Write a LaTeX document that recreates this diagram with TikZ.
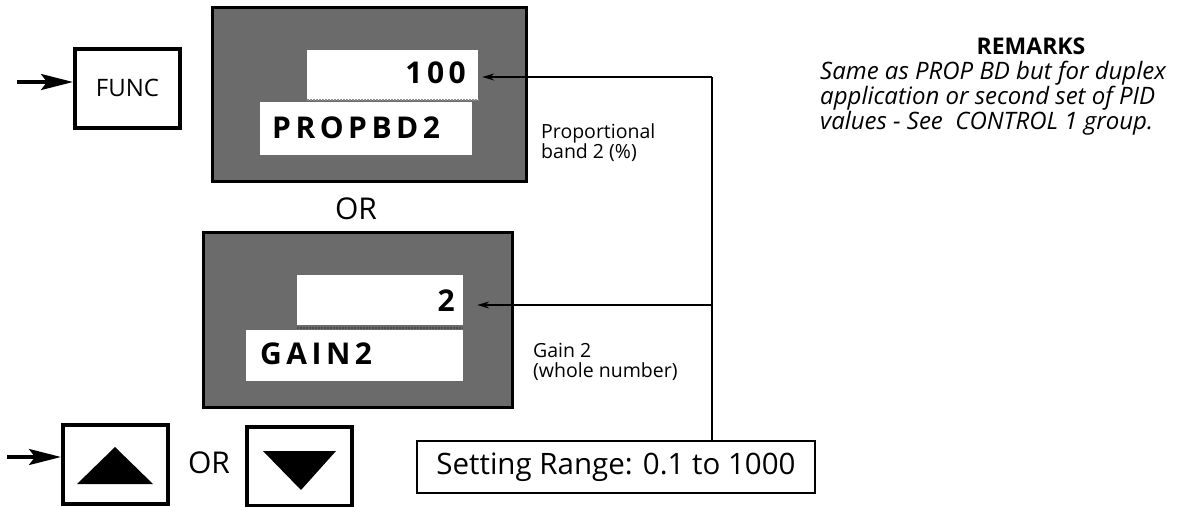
\documentclass[tikz,border=0pt]{standalone}
\usepackage{fontspec}
\setmainfont{Open Sans}
\usetikzlibrary{arrows.meta,calc,positioning}

\begin{document}
\begin{tikzpicture}[
  x=1pt, y=-1pt,
  keybox/.style={draw, line width=4pt, minimum width=105pt, minimum height=79pt, inner sep=0pt},
  panel/.style={draw, fill=black!58, line width=3pt, inner sep=0pt},
  window/.style={fill=white, inner sep=0pt},
  bigarrow/.style={-{Stealth[length=32pt,width=16pt,inset=6pt]}, line width=3.2pt},
  feed/.style={-{Stealth[length=12pt,width=7pt]}, line width=1.6pt},
  wire/.style={line width=1.6pt},
  lcd/.style={font=\fontsize{30}{30}\selectfont\bfseries\addfontfeature{LetterSpace=15}, inner sep=0pt},
  note/.style={font=\fontsize{19.5}{20}\selectfont, align=left, anchor=west, inner sep=0pt},
  orword/.style={font=\fontsize{30}{30}\selectfont, inner sep=0pt}
]
  \useasboundingbox (0,0) rectangle (1204,506);

  % FUNC key with its input arrow
  \node[keybox, font=\fontsize{24}{24}\selectfont] (func) at (127.5,88) {FUNC};
  \coordinate (funcin) at (17,82);
  \draw[bigarrow] (funcin) -- (funcin -| func.west);

  % Upper display: PROPBD2
  \node[panel, minimum width=314pt, minimum height=174pt] (dispA) at (369,94) {};
  \node[window, minimum width=171pt, minimum height=50pt] (valA) at (392.5,75) {};
  \node[window, minimum width=212pt, minimum height=53pt] (nameA) at (366,128.5) {};
  \draw[black!45, line width=1.5pt, dash pattern=on 2pt off 1pt] (valA.south west) -- (valA.south east);
  \node[lcd, anchor=east] (numA) at (466,73) {100};
  \node[lcd, anchor=west] (txtA) at (272,128) {PROPBD2};
  \node[note] (descA) at (541,143) {Proportional\\band 2 (\%)};

  \node[orword] (orA) at (356,209) {OR};

  % Lower display: GAIN2
  \node[panel, minimum width=309pt, minimum height=175pt] (dispB) at (357.5,319.5) {};
  \node[window, minimum width=166pt, minimum height=50pt] (valB) at (380,300) {};
  \node[window, minimum width=217pt, minimum height=51pt] (nameB) at (354.5,355.5) {};
  \draw[black!70, line width=1.5pt, dash pattern=on 2pt off 1pt] ($(valB.south west)+(0,3)$) -- ($(valB.south east)+(0,3)$);
  \node[lcd, anchor=east] (numB) at (455,301) {2};
  \node[lcd, anchor=west] (txtB) at (260,354) {GAIN2};
  \node[note] (descB) at (533,362) {Gain 2\\(whole number)};

  % Setting range and the feed lines to both values
  \node[draw, line width=2pt, minimum width=398pt, minimum height=52pt, inner sep=0pt,
        font=\fontsize{29.5}{29.5}\selectfont] (range) at (616,467) {Setting Range: 0.1 to 1000};
  \coordinate (junA) at (712,77);
  \coordinate (junB) at (712,305);
  \draw[wire] (junA) -- (junA |- range.north);
  \draw[feed] (junA) -- ($(junA -| valA.east)+(4,0)$);
  \draw[feed] (junB) -- ($(junB -| valB.east)+(14,0)$);

  % Up / down keys
  \node[keybox] (upkey) at (115.5,464) {};
  \node[keybox] (downkey) at (299.5,466) {};
  \fill (115,447) -- (153,484) -- (77,484) -- cycle;
  \fill (263,451) -- (336,451) -- (301,490) -- cycle;
  \node[orword] (orB) at (209,463) {OR};
  \coordinate (upin) at (7,457);
  \draw[bigarrow] (upin) -- (upin -| upkey.west);

  % Remarks
  \node[font=\fontsize{23}{23}\selectfont\bfseries, inner sep=0pt] (remhead) at (1031,46) {REMARKS};
  \node[font=\fontsize{24}{20.5}\selectfont\itshape, align=left, anchor=north west, inner sep=0pt]
    (remtext) at (820,61) {Same as PROP BD but for duplex\\application or second set of PID\\values - See\ \ CONTROL 1 group.};
\end{tikzpicture}
\end{document}
